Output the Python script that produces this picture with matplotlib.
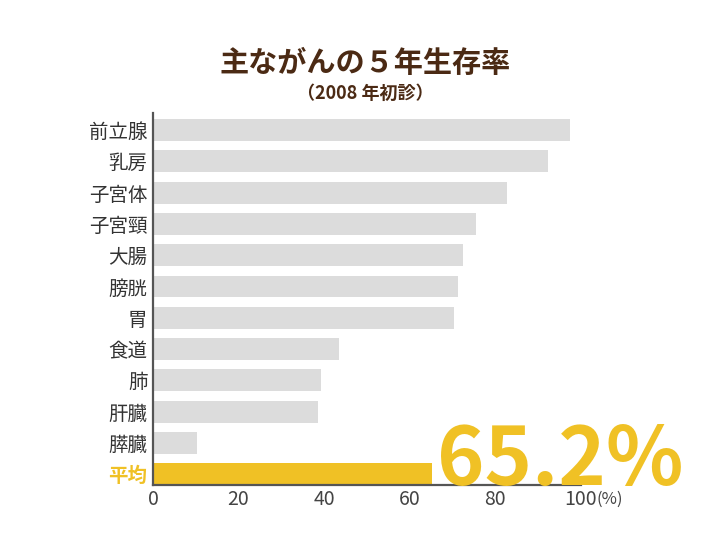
import matplotlib.pyplot as plt
import numpy as np

plt.rcParams['font.family'] = ['Noto Sans CJK JP', 'DejaVu Sans']

# データ（2008年初診、5年生存率 %）
部位 = ['前立腺', '乳房', '子宮体', '子宮頸', '大腸', '膀胱', '胃',
        '食道', '肺', '肝臓', '膵臓', '平均']
生存率 = [97.4, 92.3, 82.7, 75.5, 72.4, 71.3, 70.3, 43.5, 39.3, 38.6, 10.3, 65.2]
x目盛 = [0, 20, 40, 60, 80, 100]

灰色 = '#dcdcdc'
金色 = '#f0c125'
茶色 = '#4b2a14'

fig = plt.figure(figsize=(7.26, 5.45), dpi=100)
ax = fig.add_axes([0.2107, 0.110, 0.5896, 0.6827])

y = np.arange(len(部位))[::-1]
色 = [灰色] * (len(部位) - 1) + [金色]
ax.barh(y, 生存率, height=0.7, color=色, edgecolor='none')

ax.set_xlim(0, 100)
ax.set_ylim(-0.35, 11.55)
ax.set_yticks(y)
ax.set_yticklabels(部位, fontsize=14, color='#333333')
ax.get_yticklabels()[-1].set_color(金色)
ax.get_yticklabels()[-1].set_fontweight('bold')
ax.set_xticks(x目盛)
ax.set_xticklabels([str(v) for v in x目盛], fontsize=14, color='#444444')
ax.tick_params(axis='y', length=0, pad=4)
ax.tick_params(axis='x', length=0, pad=3)

for s in ['top', 'right']:
    ax.spines[s].set_visible(False)
for s in ['left', 'bottom']:
    ax.spines[s].set_color('#555555')
    ax.spines[s].set_linewidth(1.6)

# 単位
ax.annotate('(%)', xy=(100, 0), xycoords=('data', 'axes fraction'), xytext=(11, -4.5),
            textcoords='offset points', fontsize=12, color='#444444', ha='left', va='top')

# 平均値の大きな表示
ax.text(66.3, -0.35, f'{生存率[-1]}%', fontsize=58, color=金色, fontweight='bold',
        ha='left', va='baseline', clip_on=False)

fig.text(0.503, 0.885, '主ながんの５年生存率', fontsize=21, fontweight='bold',
         color=茶色, ha='center', va='center')
fig.text(0.503, 0.829, '（2008 年初診）', fontsize=13, fontweight='bold',
         color=茶色, ha='center', va='center')

fig.savefig('out.png', dpi=100, facecolor='white')
